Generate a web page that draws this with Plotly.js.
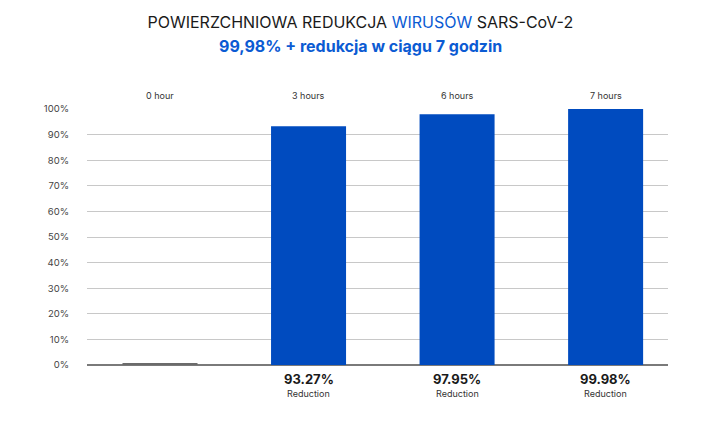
<!DOCTYPE html>
<html>
<head>
<meta charset="utf-8">
<script src="https://cdn.plot.ly/plotly-3.0.1.min.js"></script>
<style>
  html, body { margin: 0; padding: 0; background: #fff; }
  #chart { width: 725px; height: 448px; }
</style>
</head>
<body>
<div id="chart"></div>
<script>
// Surface reduction of SARS-CoV-2 over time.
const hours = ["0 hour", "3 hours", "6 hours", "7 hours"];
const reduction = [0.8, 93.27, 97.95, 99.98];
const reductionLabels = ["", "93.27%", "97.95%", "99.98%"];
const barColors = ["#6b6b6b", "#004bbf", "#004bbf", "#004bbf"];
const yTicks = [0, 10, 20, 30, 40, 50, 60, 70, 80, 90, 100];

const BLUE = "#0b5bd3";
const FONT = "Inter, 'Open Sans', sans-serif";

const annotations = [];
hours.forEach((h, i) => {
  // hour label above the plot
  annotations.push({
    x: h, xref: "x", y: 1, yref: "paper", yanchor: "bottom", yshift: 6,
    text: h, showarrow: false, font: { family: FONT, size: 9, color: "#333" },
  });
  if (reductionLabels[i]) {
    annotations.push({
      x: h, xref: "x", y: 0, yref: "paper", yanchor: "top", yshift: -4,
      text: "<b>" + reductionLabels[i] + "</b>", showarrow: false,
      font: { family: FONT, size: 13, color: "#1a1a1a" },
    });
    annotations.push({
      x: h, xref: "x", y: 0, yref: "paper", yanchor: "top", yshift: -21,
      text: "Reduction", showarrow: false, font: { family: FONT, size: 9, color: "#333" },
    });
  }
});
annotations.push({
  xref: "paper", x: 0.47, yref: "paper", y: 1, yanchor: "middle", yshift: 63,
  xanchor: "center",
  text: "<b>99,98% + redukcja w ciągu 7 godzin</b>", showarrow: false,
  font: { family: FONT, size: 16, color: BLUE },
});

Plotly.newPlot(
  "chart",
  [{
    x: hours, y: reduction, type: "bar",
    marker: { color: barColors },
    hoverinfo: "skip",
  }],
  {
    width: 725, height: 448,
    paper_bgcolor: "#fff", plot_bgcolor: "#fff",
    margin: { l: 87, r: 57, t: 109, b: 83 },
    showlegend: false,
    bargap: 0.495,
    title: {
      text: "POWIERZCHNIOWA REDUKCJA <span style='color:" + BLUE + "'>WIRUSÓW</span> SARS-CoV-2",
      x: 0.497, xanchor: "center", xref: "container",
      y: 1 - 22 / 448, yref: "container", yanchor: "middle",
      font: { family: FONT, size: 16, color: "#1a1a1a" },
    },
    annotations,
    xaxis: {
      type: "category", range: [-0.4915, 3.42],
      showticklabels: false, showgrid: false, zeroline: false, ticks: "",
      showline: false,
    },
    yaxis: {
      range: [0, 100], tickvals: yTicks, ticktext: yTicks.map((v) => v + "%"),
      showgrid: true, gridcolor: "#c8c8c8", gridwidth: 1,
      zeroline: true, zerolinecolor: "#7a7a7a", zerolinewidth: 2,
      ticks: "", ticklabelstandoff: 17,
      tickfont: { family: FONT, size: 9.5, color: "#444" },
    },
  },
  { displayModeBar: false, staticPlot: true },
);
</script>
</body>
</html>
